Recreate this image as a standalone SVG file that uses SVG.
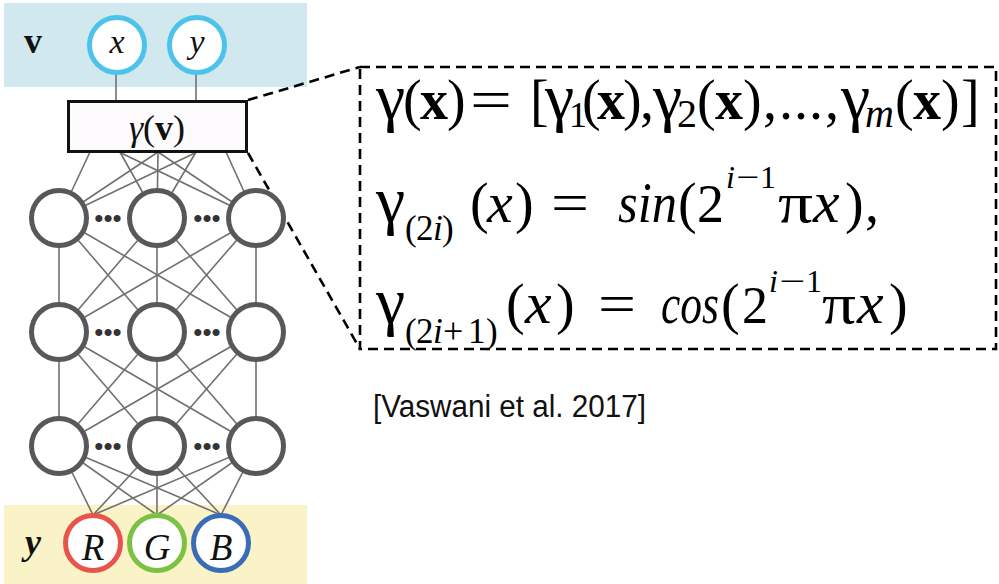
<svg xmlns="http://www.w3.org/2000/svg" width="999" height="584" viewBox="0 0 999 584">
<style>
.conn{stroke:#707070;stroke-width:1.6;fill:none}
.hid{fill:#fff;stroke:#58585a;stroke-width:5}
.dash{stroke:#000;stroke-width:2.6;fill:none;stroke-dasharray:10 6}
.lbl{font-family:"Liberation Serif","DejaVu Serif",serif;fill:#111}
.eq{font-family:"Liberation Serif","DejaVu Serif",serif;fill:#000;font-size:56px}
.it{font-style:italic}
.bf{font-weight:bold}
.g{font-size:66px}
.s{font-size:35px}
.dots{font-family:"Liberation Sans",Arial,sans-serif;font-size:26px;fill:#333;text-anchor:middle}
</style>
<g id="bands">
<rect x="4" y="3" width="303" height="84" fill="#d0e8ee"/>
<rect x="4" y="505" width="303" height="79" fill="#fbf3c8"/>
</g>
<g id="connectors">
<line class="conn" x1="116" y1="45" x2="116" y2="101"/>
<line class="conn" x1="196" y1="45" x2="196" y2="101"/>
<line class="conn" x1="90" y1="152" x2="59" y2="218"/>
<line class="conn" x1="158" y1="152" x2="59" y2="218"/>
<line class="conn" x1="197" y1="152" x2="59" y2="218"/>
<line class="conn" x1="120" y1="152" x2="157" y2="218"/>
<line class="conn" x1="158" y1="152" x2="157" y2="218"/>
<line class="conn" x1="196" y1="152" x2="157" y2="218"/>
<line class="conn" x1="119" y1="152" x2="256" y2="218"/>
<line class="conn" x1="158" y1="152" x2="256" y2="218"/>
<line class="conn" x1="226" y1="152" x2="256" y2="218"/>
<line class="conn" x1="59" y1="218" x2="59" y2="332"/>
<line class="conn" x1="59" y1="218" x2="157" y2="332"/>
<line class="conn" x1="59" y1="218" x2="256" y2="332"/>
<line class="conn" x1="157" y1="218" x2="59" y2="332"/>
<line class="conn" x1="157" y1="218" x2="157" y2="332"/>
<line class="conn" x1="157" y1="218" x2="256" y2="332"/>
<line class="conn" x1="256" y1="218" x2="59" y2="332"/>
<line class="conn" x1="256" y1="218" x2="157" y2="332"/>
<line class="conn" x1="256" y1="218" x2="256" y2="332"/>
<line class="conn" x1="59" y1="332" x2="59" y2="446"/>
<line class="conn" x1="59" y1="332" x2="157" y2="446"/>
<line class="conn" x1="59" y1="332" x2="256" y2="446"/>
<line class="conn" x1="157" y1="332" x2="59" y2="446"/>
<line class="conn" x1="157" y1="332" x2="157" y2="446"/>
<line class="conn" x1="157" y1="332" x2="256" y2="446"/>
<line class="conn" x1="256" y1="332" x2="59" y2="446"/>
<line class="conn" x1="256" y1="332" x2="157" y2="446"/>
<line class="conn" x1="256" y1="332" x2="256" y2="446"/>
<line class="conn" x1="59" y1="446" x2="93" y2="515"/>
<line class="conn" x1="59" y1="446" x2="157" y2="515"/>
<line class="conn" x1="59" y1="446" x2="221" y2="515"/>
<line class="conn" x1="157" y1="446" x2="93" y2="515"/>
<line class="conn" x1="157" y1="446" x2="157" y2="515"/>
<line class="conn" x1="157" y1="446" x2="221" y2="515"/>
<line class="conn" x1="256" y1="446" x2="93" y2="515"/>
<line class="conn" x1="256" y1="446" x2="157" y2="515"/>
<line class="conn" x1="256" y1="446" x2="221" y2="515"/>
<line class="dash" x1="248" y1="100" x2="360" y2="67"/>
<line class="dash" x1="248" y1="153" x2="360" y2="349"/>
</g>
<g id="input">
<text class="lbl bf" x="33" y="53" font-size="36" text-anchor="middle">v</text>
<circle cx="117" cy="45" r="27.5" fill="#fff" stroke="#4cc3ea" stroke-width="5"/>
<text class="lbl it" x="117" y="53" font-size="34" text-anchor="middle">x</text>
<circle cx="197" cy="45" r="27.5" fill="#fff" stroke="#4cc3ea" stroke-width="5"/>
<text class="lbl it" x="197" y="53" font-size="34" text-anchor="middle">y</text>
</g>
<g id="encoding">
<rect x="68.5" y="101.5" width="178" height="50" fill="#fdfbfd" stroke="#111" stroke-width="3"/>
<text class="lbl" x="157" y="140" font-size="36" text-anchor="middle"><tspan class="it">γ</tspan>(<tspan class="bf">v</tspan>)</text>
</g>
<g id="hidden1">
<circle class="hid" cx="59" cy="218" r="27.5"/>
<circle class="hid" cx="157" cy="218" r="27.5"/>
<circle class="hid" cx="256" cy="218" r="27.5"/>
<text class="dots" x="108" y="227">•••</text>
<text class="dots" x="207" y="227">•••</text>
</g>
<g id="hidden2">
<circle class="hid" cx="59" cy="332" r="27.5"/>
<circle class="hid" cx="157" cy="332" r="27.5"/>
<circle class="hid" cx="256" cy="332" r="27.5"/>
<text class="dots" x="108" y="341">•••</text>
<text class="dots" x="207" y="341">•••</text>
</g>
<g id="hidden3">
<circle class="hid" cx="59" cy="446" r="27.5"/>
<circle class="hid" cx="157" cy="446" r="27.5"/>
<circle class="hid" cx="256" cy="446" r="27.5"/>
<text class="dots" x="108" y="455">•••</text>
<text class="dots" x="207" y="455">•••</text>
</g>
<g id="output">
<text class="lbl bf it" x="33" y="554" font-size="36" text-anchor="middle">y</text>
<circle cx="93" cy="543" r="27.5" fill="#fff" stroke="#e8534b" stroke-width="5"/>
<text class="lbl it" x="93" y="560" font-size="37" text-anchor="middle">R</text>
<circle cx="157" cy="543" r="27.5" fill="#fff" stroke="#7cc242" stroke-width="5"/>
<text class="lbl it" x="157" y="560" font-size="37" text-anchor="middle">G</text>
<circle cx="221" cy="543" r="27.5" fill="#fff" stroke="#3b6db6" stroke-width="5"/>
<text class="lbl it" x="221" y="560" font-size="37" text-anchor="middle">B</text>
</g>
<g id="formula">
<rect class="dash" x="360" y="67" width="636" height="282"/>
<text class="eq" y="119"><tspan class="g" x="376">γ</tspan><tspan x="403">(</tspan><tspan class="bf" x="420">x</tspan><tspan x="447">)</tspan><tspan x="470" textLength="42" lengthAdjust="spacingAndGlyphs">=</tspan><tspan x="530">[</tspan><tspan class="g" x="545">γ</tspan><tspan x="569" y="127" font-size="36">1</tspan><tspan x="582" y="119">(</tspan><tspan class="bf" x="597">x</tspan><tspan x="623">)</tspan><tspan x="640">,</tspan><tspan class="g" x="653">γ</tspan><tspan x="677" y="127" font-size="40">2</tspan><tspan x="697" y="119">(</tspan><tspan class="bf" x="715">x</tspan><tspan x="743">)</tspan><tspan x="763">,</tspan><tspan x="779" letter-spacing="1">...</tspan><tspan x="825">,</tspan><tspan class="g" x="841">γ</tspan><tspan class="it" x="865" y="127" font-size="40">m</tspan><tspan x="895" y="119">(</tspan><tspan class="bf" x="913">x</tspan><tspan x="941">)</tspan><tspan x="961">]</tspan></text>
<text class="eq" y="222"><tspan class="g" x="376">γ</tspan><tspan class="s" x="405" y="240">(</tspan><tspan class="s" x="416">2</tspan><tspan class="s it" x="433">i</tspan><tspan class="s" x="442">)</tspan><tspan x="470" y="222">(</tspan><tspan class="it" x="487" font-size="58">x</tspan><tspan x="515">)</tspan><tspan x="551" textLength="38" lengthAdjust="spacingAndGlyphs">=</tspan><tspan class="it" x="618" textLength="59" lengthAdjust="spacingAndGlyphs">sin</tspan><tspan x="678">(</tspan><tspan x="697" font-size="54">2</tspan><tspan class="it" x="726" y="188" font-size="32">i</tspan><tspan x="736" font-size="32" textLength="23" lengthAdjust="spacingAndGlyphs">−</tspan><tspan x="760" font-size="32">1</tspan><tspan x="778" y="222" textLength="35" lengthAdjust="spacingAndGlyphs">π</tspan><tspan class="it" x="813" font-size="60">x</tspan><tspan x="845">)</tspan><tspan x="865">,</tspan></text>
<text class="eq" y="323"><tspan class="g" x="376">γ</tspan><tspan class="s" x="405" y="343">(</tspan><tspan class="s" x="416">2</tspan><tspan class="s it" x="433">i</tspan><tspan x="443" font-size="36">+</tspan><tspan class="s" x="468">1</tspan><tspan class="s" x="486">)</tspan><tspan x="506" y="323">(</tspan><tspan class="it" x="525" font-size="60">x</tspan><tspan x="556">)</tspan><tspan x="598" textLength="38" lengthAdjust="spacingAndGlyphs">=</tspan><tspan class="it" x="661" textLength="58" lengthAdjust="spacingAndGlyphs">cos</tspan><tspan x="721">(</tspan><tspan x="742" font-size="52">2</tspan><tspan class="it" x="769" y="292" font-size="32">i</tspan><tspan x="779" font-size="32" textLength="26" lengthAdjust="spacingAndGlyphs">−</tspan><tspan x="806" font-size="32">1</tspan><tspan x="822" y="323" textLength="34" lengthAdjust="spacingAndGlyphs">π</tspan><tspan class="it" x="857" font-size="60">x</tspan><tspan x="889">)</tspan></text>
</g>
<g id="citation">
<text x="373" y="417" font-family="'Liberation Sans',Arial,sans-serif" font-size="31" fill="#111" textLength="273" lengthAdjust="spacingAndGlyphs">[Vaswani et al. 2017]</text>
</g>
</svg>
